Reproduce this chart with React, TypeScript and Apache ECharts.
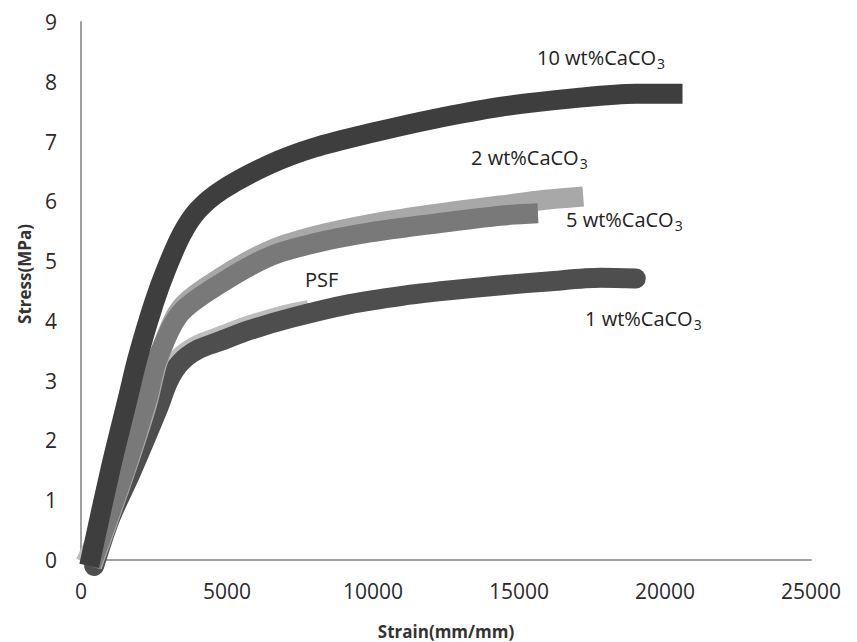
import React, { useEffect, useRef } from "react";
import * as echarts from "echarts";

const xTicks = [0, 5000, 10000, 15000, 20000, 25000];
const yTicks = [0, 1, 2, 3, 4, 5, 6, 7, 8, 9];

const psf: [number, number][] = [
  [150, -0.05], [1000, 0.85], [1700, 1.55], [2650, 2.65], [3000, 3.1], [3400, 3.4],
  [4000, 3.6], [4760, 3.74], [5800, 3.93], [7000, 4.1], [7800, 4.18],
];
const wt1: [number, number][] = [
  [450, -0.1], [1000, 0.7], [1700, 1.45], [2650, 2.55], [3000, 3.0], [3400, 3.3],
  [4000, 3.52], [4760, 3.66], [5800, 3.85], [7200, 4.05], [9200, 4.28], [11000, 4.42],
  [12600, 4.51], [14500, 4.6], [16000, 4.66], [17800, 4.72], [19000, 4.71],
];
const wt2: [number, number][] = [
  [380, -0.1], [1500, 1.45], [2260, 2.6], [2650, 3.35], [3390, 4.2], [4760, 4.72],
  [6470, 5.18], [8000, 5.42], [9900, 5.62], [12000, 5.78], [14350, 5.93], [16000, 6.03],
  [17200, 6.08],
];
const wt5: [number, number][] = [
  [330, -0.1], [1500, 1.5], [2260, 2.68], [2600, 3.34], [3390, 4.12], [4760, 4.62],
  [6470, 5.08], [8000, 5.3], [9900, 5.48], [12000, 5.62], [14350, 5.76], [15650, 5.8],
];
const wt10: [number, number][] = [
  [280, -0.1], [1000, 1.5], [1600, 2.7], [1950, 3.4], [2500, 4.3], [2950, 4.9],
  [3450, 5.45], [4000, 5.85], [4860, 6.2], [6470, 6.62], [8000, 6.9], [10000, 7.15],
  [12000, 7.37], [14350, 7.58], [17000, 7.73], [19000, 7.8], [20600, 7.8],
];

const labels = [
  { text: "10 wt%CaCO", x: 537, y: 62 },
  { text: "2 wt%CaCO", x: 471, y: 162 },
  { text: "5 wt%CaCO", x: 566, y: 224 },
  { text: "1 wt%CaCO", x: 585, y: 323 },
];

const FONT = "Open Sans";

export default function App() {
  const ref = useRef<HTMLDivElement>(null);
  useEffect(() => {
    if (!ref.current) return;
    const chart = echarts.init(ref.current, null, { renderer: "svg" });
    const mk = (name: string, data: [number, number][], color: string, cap: string) => ({
      name,
      type: "line",
      data,
      smooth: 0.3,
      showSymbol: false,
      symbol: "none",
      clip: false,
      lineStyle: { color, width: 20, cap, join: "round" },
    });
    chart.setOption({
      animation: false,
      backgroundColor: "#ffffff",
      textStyle: { fontFamily: FONT },
      grid: {
        left: 81,
        right: 46,
        top: 22,
        bottom: 82,
        containLabel: false,
        outerBoundsMode: "none",
      },
      xAxis: {
        type: "value",
        min: xTicks[0],
        max: xTicks[xTicks.length - 1],
        interval: 5000,
        name: "Strain(mm/mm)",
        nameLocation: "middle",
        nameGap: 63,
        nameTextStyle: { fontFamily: FONT, fontWeight: "bold", fontSize: 17, color: "#333" },
        axisLine: { show: true, lineStyle: { color: "#a0a0a0", width: 2 } },
        axisTick: { show: false },
        splitLine: { show: false },
        axisLabel: {
          fontFamily: FONT,
          fontSize: 21,
          color: "#2a2a2a",
          margin: 20,
          formatter: (v: number) => String(v),
        },
      },
      yAxis: {
        type: "value",
        min: yTicks[0],
        max: yTicks[yTicks.length - 1],
        interval: 1,
        axisLine: { show: true, lineStyle: { color: "#a0a0a0", width: 2 } },
        axisTick: { show: false },
        splitLine: { show: false },
        axisLabel: { fontFamily: FONT, fontSize: 21, color: "#2a2a2a", margin: 24 },
      },
      series: [
        mk("PSF", psf, "#bdbdbd", "butt"),
        mk("1 wt%CaCO3", wt1, "#4e4e4e", "round"),
        mk("2 wt%CaCO3", wt2, "#a8a8a8", "butt"),
        mk("5 wt%CaCO3", wt5, "#797979", "butt"),
        mk("10 wt%CaCO3", wt10, "#3e3e3e", "butt"),
      ],
      graphic: [
        ...labels.map((l) => ({
          type: "text",
          left: l.x,
          top: l.y - 15,
          style: {
            text: l.text + "{sub|3}",
            fontFamily: FONT,
            fontSize: 20,
            fill: "#222",
            rich: { sub: { fontSize: 14, fontFamily: FONT, fill: "#222", padding: [12, 0, 0, 1] } },
          },
        })),
        {
          type: "text",
          left: 305,
          top: 269,
          style: { text: "PSF", fontFamily: FONT, fontSize: 20, fill: "#222" },
        },
        {
          type: "text",
          x: 24,
          y: 274,
          rotation: Math.PI / 2,
          style: {
            text: "Stress(MPa)",
            fontFamily: FONT,
            fontWeight: "bold",
            fontSize: 17,
            fill: "#333",
            align: "center",
            verticalAlign: "middle",
          },
        },
      ],
    });
    return () => chart.dispose();
  }, []);
  return (
    <div
      ref={ref}
      style={{ position: "fixed", left: 0, top: 0, width: 857, height: 642, background: "#fff" }}
    />
  );
}
